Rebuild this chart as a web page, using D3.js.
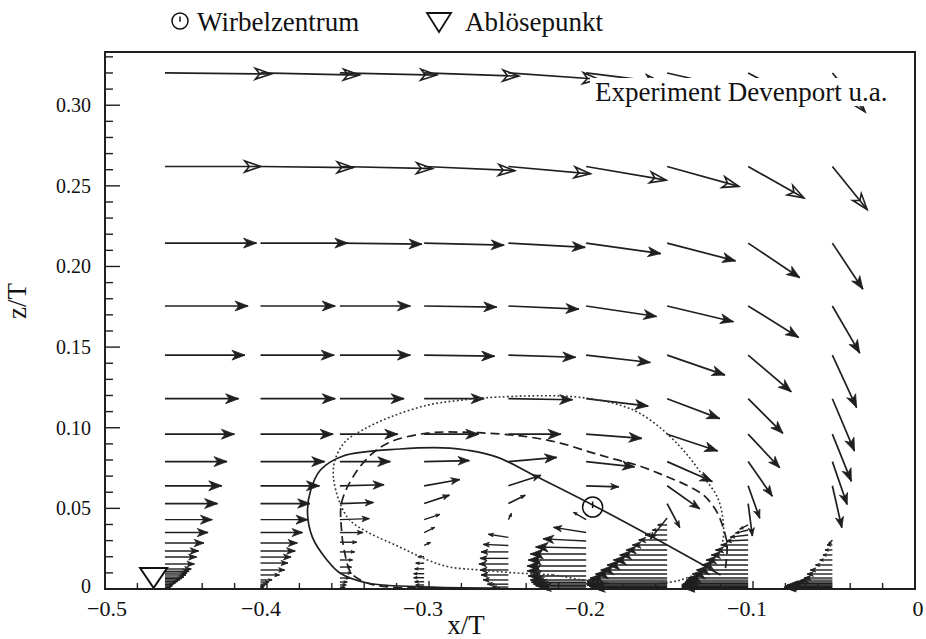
<!DOCTYPE html>
<html>
<head>
<meta charset="utf-8">
<script src="https://cdn.jsdelivr.net/npm/d3@7"></script>
<style>
  body { margin: 0; background: #fff; }
  svg { display: block; }
  text { font-family: "Liberation Serif", "Times New Roman", serif; fill: #111; }
</style>
</head>
<body>
<svg id="chart" width="926" height="639"></svg>
<script>
// Axis extents and tick labels
const xDomain = [-0.5, 0];
const zDomain = [0, 0.333];
const xTickValues = [-0.5, -0.4, -0.3, -0.2, -0.1, 0];
const xTickLabels = ["\u22120.5", "\u22120.4", "\u22120.3", "\u22120.2", "\u22120.1", "0"];
const zTickValues = [0, 0.05, 0.10, 0.15, 0.20, 0.25, 0.30];
const zTickLabels = ["0", "0.05", "0.10", "0.15", "0.20", "0.25", "0.30"];

// Measurement stations x/T
const stations = [-0.463, -0.404, -0.355, -0.303, -0.251, -0.203, -0.153, -0.103, -0.051];

// Velocity profiles per station: [z/T, u/U, w/U]
const profileA = [[0.320,1.01,-0.01],[0.262,0.91,0],[0.2145,0.87,0],[0.1755,0.79,0],[0.145,0.76,0],[0.118,0.70,0],[0.096,0.66,0],[0.079,0.59,0],[0.064,0.54,0],[0.053,0.50,0],[0.043,0.45,0],[0.035,0.41,0],[0.0285,0.37,0],[0.0236,0.32,0],[0.0198,0.30,0],[0.0155,0.28,0],[0.0124,0.25,0],[0.011,0.23,0],[0.0099,0.21,0],[0.0087,0.20,0],[0.0074,0.18,0],[0.0065,0.16,0],[0.0056,0.14,0],[0.0046,0.12,0],[0.0037,0.10,0],[0.0028,0.08,0],[0.0019,0.07,0],[0.001,0.05,0]];
const profileB = [[0.320,0.94,-0.02],[0.262,0.88,-0.01],[0.2145,0.83,0],[0.1755,0.71,0],[0.145,0.70,0],[0.118,0.71,0],[0.096,0.69,0],[0.079,0.61,0],[0.064,0.56,0],[0.053,0.47,0],[0.043,0.45,0],[0.035,0.40,0],[0.0285,0.35,0],[0.0236,0.33,0],[0.0198,0.29,0],[0.0161,0.26,0],[0.0118,0.23,0],[0.0087,0.18,0],[0.0056,0.11,0],[0.0043,0.08,0],[0.003,0.06,0],[0.002,0.04,0],[0.001,0.03,0]];
const profileC = [[0.320,0.92,-0.02],[0.262,0.88,-0.02],[0.2145,0.78,-0.01],[0.1755,0.67,0],[0.145,0.67,0],[0.118,0.61,0],[0.096,0.55,0],[0.079,0.48,0],[0.064,0.42,0.01],[0.053,0.32,0.01],[0.043,0.28,0.01],[0.035,0.22,0],[0.029,0.16,0],[0.023,0.14,0],[0.018,0.12,0],[0.0136,0.11,0],[0.0099,0.11,0],[0.0068,0.09,0],[0.0043,0.07,0],[0.0025,0.06,0],[0.001,0.05,0]];
const profileD = [[0.320,0.90,-0.03],[0.262,0.86,-0.04],[0.2145,0.76,-0.02],[0.1755,0.69,-0.01],[0.145,0.67,-0.01],[0.118,0.57,0],[0.096,0.52,0],[0.079,0.43,0.01],[0.064,0.34,0.06],[0.053,0.24,0.08],[0.043,0.15,0.05],[0.035,0.10,0.05],[0.027,0.06,0.03],[0.020,-0.06,0],[0.016,-0.08,0],[0.0125,-0.09,0],[0.0095,-0.10,0],[0.007,-0.10,0],[0.0045,-0.09,0],[0.0025,-0.08,0],[0.001,-0.06,0]];
const profileE = [[0.320,0.86,-0.06],[0.262,0.78,-0.07],[0.2145,0.73,-0.04],[0.1755,0.67,-0.03],[0.145,0.64,-0.02],[0.118,0.61,-0.01],[0.096,0.50,0],[0.079,0.46,0.04],[0.064,0.31,0.10],[0.053,0.16,0.08],[0.043,0.03,0.06],[0.032,-0.19,0.03],[0.027,-0.24,0.01],[0.023,-0.26,0],[0.019,-0.27,0],[0.0155,-0.28,0],[0.0118,-0.27,0],[0.0087,-0.26,0],[0.0056,-0.24,0],[0.003,-0.20,0],[0.0012,-0.15,0]];
const profileF = [[0.320,0.72,-0.09],[0.262,0.76,-0.13],[0.2145,0.71,-0.10],[0.1755,0.67,-0.10],[0.145,0.61,-0.07],[0.118,0.59,-0.07],[0.096,0.53,-0.04],[0.079,0.46,-0.05],[0.064,0.31,-0.01],[0.043,-0.12,0.07],[0.035,-0.31,0.05],[0.0298,-0.41,0.02],[0.0254,-0.48,0.01],[0.0217,-0.53,0],[0.018,-0.55,0],[0.0143,-0.56,0],[0.0112,-0.56,0],[0.0081,-0.55,0],[0.0056,-0.53,0],[0.0042,-0.52,0],[0.0031,-0.50,0],[0.002,-0.48,0],[0.0012,-0.44,0]];
const profileG = [[0.320,0.70,-0.16],[0.262,0.68,-0.19],[0.2145,0.65,-0.17],[0.1755,0.63,-0.15],[0.145,0.55,-0.19],[0.118,0.50,-0.19],[0.096,0.48,-0.16],[0.079,0.43,-0.19],[0.064,0.31,-0.22],[0.053,0.12,-0.23],[0.044,-0.16,-0.20],[0.0397,-0.09,0],[0.0366,-0.14,0],[0.0335,-0.21,0],[0.0304,-0.27,0],[0.0273,-0.33,0],[0.0242,-0.39,0],[0.0211,-0.45,0],[0.018,-0.51,0],[0.0149,-0.57,0],[0.0118,-0.63,0],[0.0093,-0.68,0],[0.0068,-0.73,0],[0.0055,-0.75,0],[0.0043,-0.76,0],[0.0033,-0.77,0],[0.0025,-0.76,0],[0.0017,-0.74,0],[0.001,-0.71,0]];
const profileH = [[0.320,0.50,-0.26],[0.262,0.53,-0.30],[0.2145,0.49,-0.33],[0.1755,0.48,-0.30],[0.145,0.41,-0.35],[0.118,0.33,-0.33],[0.096,0.30,-0.32],[0.079,0.23,-0.33],[0.064,0.11,-0.31],[0.053,0.04,-0.31],[0.0397,-0.08,-0.04],[0.0366,-0.12,-0.03],[0.0335,-0.17,-0.02],[0.0304,-0.21,-0.01],[0.0273,-0.26,0],[0.0242,-0.31,0],[0.0211,-0.35,0],[0.018,-0.40,0],[0.0149,-0.44,0],[0.0118,-0.49,0],[0.0093,-0.53,0],[0.0068,-0.57,0],[0.0055,-0.59,0],[0.0043,-0.60,0],[0.0033,-0.62,0],[0.0025,-0.63,0],[0.0017,-0.63,0],[0.001,-0.63,0]];
const profileI = [[0.320,0.31,-0.37],[0.262,0.33,-0.41],[0.2145,0.29,-0.44],[0.1755,0.26,-0.45],[0.145,0.23,-0.50],[0.118,0.21,-0.50],[0.096,0.18,-0.45],[0.079,0.14,-0.41],[0.064,0.09,-0.40],[0.0304,-0.04,-0.05],[0.0273,-0.05,0],[0.0242,-0.07,0],[0.0211,-0.09,0],[0.018,-0.12,0],[0.0149,-0.16,0],[0.0118,-0.21,0],[0.0093,-0.24,0],[0.0068,-0.27,0],[0.0055,-0.30,0],[0.0043,-0.33,0],[0.0033,-0.38,0],[0.0025,-0.43,0],[0.0017,-0.45,0],[0.001,-0.46,0]];
const profiles = [profileA, profileB, profileC, profileD, profileE, profileF, profileG, profileH, profileI];

// Arrow length in x/T per unit velocity
const arrowScale = 0.065;

// Characteristic points
const vortexCentre = [-0.199, 0.0508];
const separationPoint = [-0.470, 0];

// Streamline-type contours [x/T, z/T]
const solidLine = [[-0.120,0.0087],[-0.133,0.0161],[-0.162,0.0322],[-0.199,0.0521],[-0.233,0.0694],[-0.258,0.0818],[-0.277,0.0862],[-0.287,0.0874],[-0.318,0.0868],[-0.353,0.0825],[-0.367,0.0738],[-0.373,0.0614],[-0.375,0.0471],[-0.372,0.0322],[-0.363,0.018],[-0.355,0.0099],[-0.338,0.0037],[-0.298,0.0012],[-0.256,0.0006]];
const dashedLine = [[-0.117,0.013],[-0.116,0.0273],[-0.1185,0.0384],[-0.123,0.049],[-0.130,0.0577],[-0.140,0.0639],[-0.154,0.070],[-0.170,0.0763],[-0.188,0.0812],[-0.2006,0.0849],[-0.219,0.0905],[-0.238,0.0942],[-0.256,0.0961],[-0.281,0.0973],[-0.301,0.0967],[-0.324,0.0911],[-0.336,0.0831],[-0.347,0.0694],[-0.354,0.0533],[-0.354,0.0366],[-0.352,0.0223],[-0.348,0.0099],[-0.338,0.0037],[-0.324,0.0012],[-0.293,0.0006]];
const dottedLine = [[-0.205,0.0056],[-0.2235,0.0087],[-0.2457,0.0099],[-0.2685,0.0118],[-0.287,0.0136],[-0.301,0.018],[-0.318,0.026],[-0.338,0.0353],[-0.349,0.0428],[-0.355,0.0533],[-0.359,0.0694],[-0.358,0.080],[-0.352,0.0911],[-0.341,0.0986],[-0.324,0.1066],[-0.301,0.114],[-0.281,0.117],[-0.258,0.119],[-0.219,0.1197],[-0.199,0.1178],[-0.182,0.114],[-0.170,0.109],[-0.157,0.0998],[-0.146,0.0893],[-0.138,0.080],[-0.130,0.0688],[-0.122,0.057],[-0.1185,0.0428],[-0.1185,0.0304],[-0.122,0.0198],[-0.131,0.0118],[-0.141,0.0068],[-0.151,0.0043],[-0.176,0.003],[-0.194,0.0043]];

const svg = d3.select("#chart");
const x = d3.scaleLinear().domain(xDomain).range([105, 915]);
const z = d3.scaleLinear().domain(zDomain).range([589, 52]);
const ink = "#1f1f1f";

// Ticks (inward), minor every 0.02 on x and 0.01 on z
const axisG = svg.append("g");
d3.range(-0.48, -0.001, 0.02).forEach(v => {
  const major = Math.abs(v * 10 - Math.round(v * 10)) < 1e-6;
  axisG.append("line").attr("x1", x(v)).attr("x2", x(v))
    .attr("y1", z(0)).attr("y2", z(0) - (major ? 8 : 6))
    .attr("stroke", ink).attr("stroke-width", 1.4);
});
d3.range(0.01, 0.3301, 0.01).forEach(v => {
  const major = Math.abs(v * 20 - Math.round(v * 20)) < 1e-6;
  axisG.append("line").attr("x1", x(-0.5)).attr("x2", x(-0.5) + (major ? 15 : 8))
    .attr("y1", z(v)).attr("y2", z(v))
    .attr("stroke", ink).attr("stroke-width", 1.4);
});

// Tick labels
xTickValues.forEach((v, i) => {
  const shift = v === 0 ? 3 : (v === -0.5 ? 2 : -6);
  svg.append("text").attr("x", x(v) + shift).attr("y", 616)
    .attr("text-anchor", "middle").attr("font-size", 22).text(xTickLabels[i]);
});
zTickValues.forEach((v, i) => {
  svg.append("text").attr("x", 91).attr("y", z(v) - (v === 0 ? 3 : 0)).attr("dy", "0.35em")
    .attr("text-anchor", "end").attr("font-size", 20).text(zTickLabels[i]);
});

// Axis titles
svg.append("text").attr("x", 466).attr("y", 634).attr("text-anchor", "middle")
  .attr("font-size", 27).text("x/T");
svg.append("text").attr("transform", "translate(26,301) rotate(-90)")
  .attr("text-anchor", "middle").attr("font-size", 27).text("z/T");

// Vector field
const fieldG = svg.append("g");
function headPath(tx, ty, ang, h, hw) {
  const c = Math.cos(ang), s = Math.sin(ang);
  const bx = tx - h * c, by = ty - h * s;
  const nx = tx - 0.72 * h * c, ny = ty - 0.72 * h * s;
  return `M${tx},${ty}L${bx - hw * s},${by + hw * c}L${nx},${ny}L${bx + hw * s},${by - hw * c}Z`;
}
profiles.forEach((prof, k) => {
  const xs = stations[k];
  prof.forEach(([zz, u, w]) => {
    const x0 = x(xs), y0 = z(zz);
    const x1 = x(xs + u * arrowScale), y1 = z(zz + w * arrowScale);
    const L = Math.hypot(x1 - x0, y1 - y0);
    const ang = Math.atan2(y1 - y0, x1 - x0);
    const hollow = zz > 0.25;
    const thin = zz < 0.045 && L < 90;
    fieldG.append("line").attr("x1", x0).attr("y1", y0).attr("x2", x1).attr("y2", y1)
      .attr("stroke", ink).attr("stroke-width", thin ? 1.4 : 1.7);
    if (hollow) {
      fieldG.append("path").attr("d", headPath(x1, y1, ang, 16, 5.5))
        .attr("fill", "none").attr("stroke", ink).attr("stroke-width", 1.6);
    } else {
      const h = Math.max(3.5, Math.min(13, L * 0.25));
      fieldG.append("path").attr("d", headPath(x1, y1, ang, h, h * 0.38))
        .attr("fill", ink).attr("stroke", ink).attr("stroke-width", 0.8);
    }
  });
});

// Contours
const line = d3.line().x(d => x(d[0])).y(d => z(d[1])).curve(d3.curveCatmullRom.alpha(0.5));
svg.append("path").attr("d", line(solidLine)).attr("fill", "none")
  .attr("stroke", ink).attr("stroke-width", 1.7);
svg.append("path").attr("d", line(dashedLine)).attr("fill", "none")
  .attr("stroke", ink).attr("stroke-width", 1.7).attr("stroke-dasharray", "9,5");
const closedLine = d3.line().x(d => x(d[0])).y(d => z(d[1])).curve(d3.curveCatmullRomClosed.alpha(0.5));
svg.append("path").attr("d", closedLine(dottedLine)).attr("fill", "none")
  .attr("stroke", "#333").attr("stroke-width", 1.6).attr("stroke-dasharray", "1.8,2.4");

// Vortex centre marker
function vortexGlyph(g, cx, cy, r) {
  g.append("circle").attr("cx", cx).attr("cy", cy).attr("r", r)
    .attr("fill", "none").attr("stroke", "#111").attr("stroke-width", 1.5);
  g.append("line").attr("x1", cx).attr("x2", cx).attr("y1", cy - r * 0.55).attr("y2", cy + r * 0.1)
    .attr("stroke", "#111").attr("stroke-width", 1.5);
}
vortexGlyph(svg, x(vortexCentre[0]), z(vortexCentre[1]), 10);

// Separation point marker
function separationGlyph(g, tx, ty, w, h) {
  g.append("path").attr("d", `M${tx},${ty}L${tx - w / 2},${ty - h}L${tx + w / 2},${ty - h}Z`)
    .attr("fill", "#fff").attr("stroke", "#111").attr("stroke-width", 2);
}
separationGlyph(svg, x(separationPoint[0]), z(separationPoint[1]) - 1, 27, 20);

// Frame
svg.append("rect").attr("x", x(-0.5)).attr("y", z(0.333)).attr("width", x(0) - x(-0.5))
  .attr("height", z(0) - z(0.333)).attr("fill", "none").attr("stroke", ink).attr("stroke-width", 2);

// Source note inside the plot
svg.append("rect").attr("x", 590).attr("y", 78).attr("width", 303).attr("height", 28).attr("fill", "#fff");
svg.append("text").attr("x", 595).attr("y", 101).attr("font-size", 27).text("Experiment Devenport u.a.");

// Legend
vortexGlyph(svg, 180, 21, 8);
svg.append("text").attr("x", 197).attr("y", 31).attr("font-size", 27).text("Wirbelzentrum");
svg.append("path").attr("d", "M427,13L451,13L439,32Z").attr("fill", "none")
  .attr("stroke", "#111").attr("stroke-width", 1.8);
svg.append("text").attr("x", 465).attr("y", 31).attr("font-size", 27).text("Ablösepunkt");
</script>
</body>
</html>
